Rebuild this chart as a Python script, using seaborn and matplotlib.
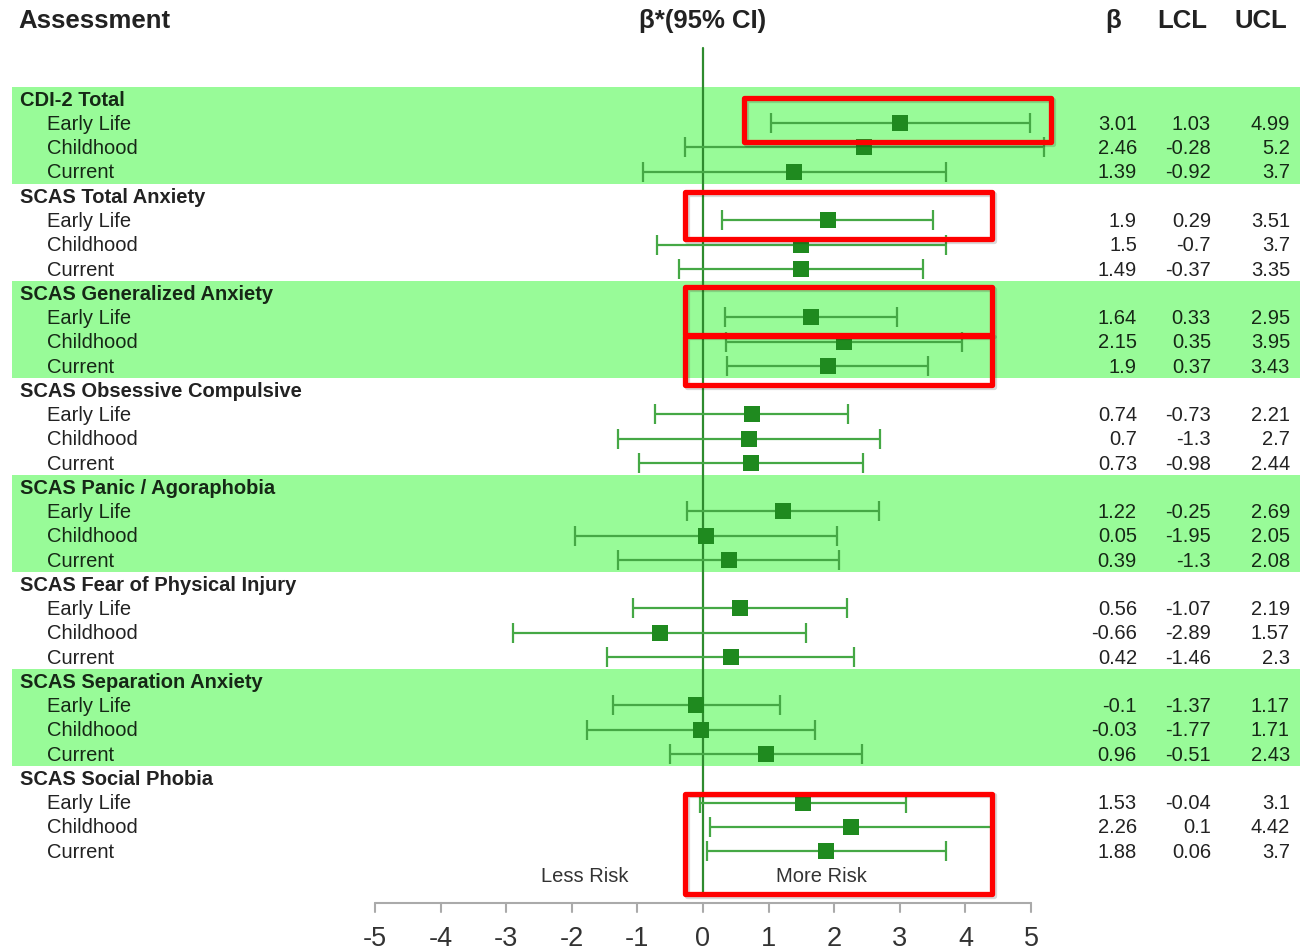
import numpy as np
import pandas as pd
import matplotlib
matplotlib.use("Agg")
import matplotlib.pyplot as plt
from matplotlib.patches import Rectangle
import seaborn as sns

sns.set_style("white")
plt.rcParams["font.family"] = ["Liberation Sans", "DejaVu Sans"]

# data
groups = ["CDI-2 Total", "SCAS Total Anxiety", "SCAS Generalized Anxiety",
          "SCAS Obsessive Compulsive", "SCAS Panic / Agoraphobia",
          "SCAS Fear of Physical Injury", "SCAS Separation Anxiety",
          "SCAS Social Phobia"]
periods = ["Early Life", "Childhood", "Current"]
beta = [3.01, 2.46, 1.39, 1.9, 1.5, 1.49, 1.64, 2.15, 1.9, 0.74, 0.7, 0.73,
        1.22, 0.05, 0.39, 0.56, -0.66, 0.42, -0.1, -0.03, 0.96, 1.53, 2.26, 1.88]
lcl = [1.03, -0.28, -0.92, 0.29, -0.7, -0.37, 0.33, 0.35, 0.37, -0.73, -1.3, -0.98,
       -0.25, -1.95, -1.3, -1.07, -2.89, -1.46, -1.37, -1.77, -0.51, -0.04, 0.1, 0.06]
ucl = [4.99, 5.2, 3.7, 3.51, 3.7, 3.35, 2.95, 3.95, 3.43, 2.21, 2.7, 2.44,
       2.69, 2.05, 2.08, 2.19, 1.57, 2.3, 1.17, 1.71, 2.43, 3.1, 4.42, 3.7]
ticks = [-5, -4, -3, -2, -1, 0, 1, 2, 3, 4, 5]

# highlight boxes (x0, x1, row0, row1)
boxes = [(0.63, 5.31, -0.02, 1.79), (-0.27, 4.41, 3.85, 5.79),
         (-0.27, 4.41, 7.77, 9.71), (-0.27, 4.41, 9.75, 11.81),
         (-0.27, 4.41, 28.63, 32.79)]

rows = []
for g, name in enumerate(groups):
    for p, per in enumerate(periods):
        rows.append({"group": g, "period": per, "row": 4 * g + p + 1})
df = pd.DataFrame(rows)
df["beta"] = beta
df["lcl"] = lcl
df["ucl"] = ucl

band = "#98fb98"
dark = "#222222"
dark_band = "#162816"

fig = plt.figure(figsize=(13.09, 9.5), dpi=100)
ax = fig.add_axes([0, 0, 1, 1])

# green bands
for g in range(0, len(groups), 2):
    ax.axhspan(4 * g - 0.5, 4 * g + 3.5, xmin=0.009, xmax=0.993,
               color=band, lw=0, zorder=0)

# headers
ax.text(-10.44, -3.22, "Assessment", fontsize=18.5, fontweight="bold",
        color=dark, va="center", ha="left")
ax.text(0, -3.22, "β*(95% CI)", fontsize=18.5, fontweight="bold",
        color=dark, va="center", ha="center")
ax.text(6.25, -3.22, "β", fontsize=18.5, fontweight="bold", color=dark,
        va="center", ha="center")
ax.text(7.3, -3.22, "LCL", fontsize=18.5, fontweight="bold", color=dark,
        va="center", ha="center")
ax.text(8.5, -3.22, "UCL", fontsize=18.5, fontweight="bold", color=dark,
        va="center", ha="center")

# reference line at 0
ax.plot([0, 0], [-2.1, 32.73], color="#2e8b2e", lw=1.6, zorder=2)

# labels and table
for g, name in enumerate(groups):
    c = dark_band if g % 2 == 0 else dark
    ax.text(-10.41, 4 * g + 0.05, name, fontsize=14.5, fontweight="bold",
            color=c, va="center", ha="left")
for _, r in df.iterrows():
    c = dark_band if r["group"] % 2 == 0 else dark
    y = r["row"] + 0.05
    ax.text(-10.0, y, r["period"], fontsize=14.5, color=c,
            va="center", ha="left")
    ax.text(6.616, y, str(r["beta"]), fontsize=14.5, color=c,
            va="center", ha="right")
    ax.text(7.744, y, str(r["lcl"]), fontsize=14.5, color=c,
            va="center", ha="right")
    ax.text(8.948, y, str(r["ucl"]), fontsize=14.5, color=c,
            va="center", ha="right")

# confidence intervals
ax.errorbar(df["beta"], df["row"],
            xerr=[df["beta"] - df["lcl"], df["ucl"] - df["beta"]],
            fmt="none", ecolor="#45a845", elinewidth=1.6, capsize=7.2,
            capthick=1.6, zorder=3)
sns.scatterplot(data=df, x="beta", y="row", marker="s", s=125,
                color="#1f8a1f", linewidth=0, legend=False, zorder=4, ax=ax)

ax.text(-1.8, 32.03, "Less Risk", fontsize=14.5, color="#333333",
        va="center", ha="center")
ax.text(1.8, 32.03, "More Risk", fontsize=14.5, color="#333333",
        va="center", ha="center")

# x axis
ax.plot([ticks[0], ticks[-1]], [33.14, 33.14], color="#aaaaaa", lw=1.5,
        zorder=2)
for t in ticks:
    ax.plot([t, t], [33.14, 33.51], color="#aaaaaa", lw=1.5, zorder=2)
    ax.text(t, 34.62, str(t), fontsize=19.5, color="#333333",
            va="center", ha="center")

# red highlight boxes, with a faint shadow
for x0, x1, y0, y1 in boxes:
    shadow = Rectangle((x0 + 0.03, y0 + 0.08), x1 - x0, y1 - y0, fill=False,
                       edgecolor="#000000", alpha=0.15, lw=3.8,
                       joinstyle="round", zorder=5)
    ax.add_patch(shadow)
    rect = Rectangle((x0, y0), x1 - x0, y1 - y0, fill=False,
                     edgecolor="#ff0000", lw=3.8, joinstyle="round",
                     zorder=6)
    ax.add_patch(rect)

ax.set_xlim(-10.716, 9.238)
ax.set_ylim(35.08, -4.08)
ax.axis("off")

fig.savefig("out.png", dpi=100)
